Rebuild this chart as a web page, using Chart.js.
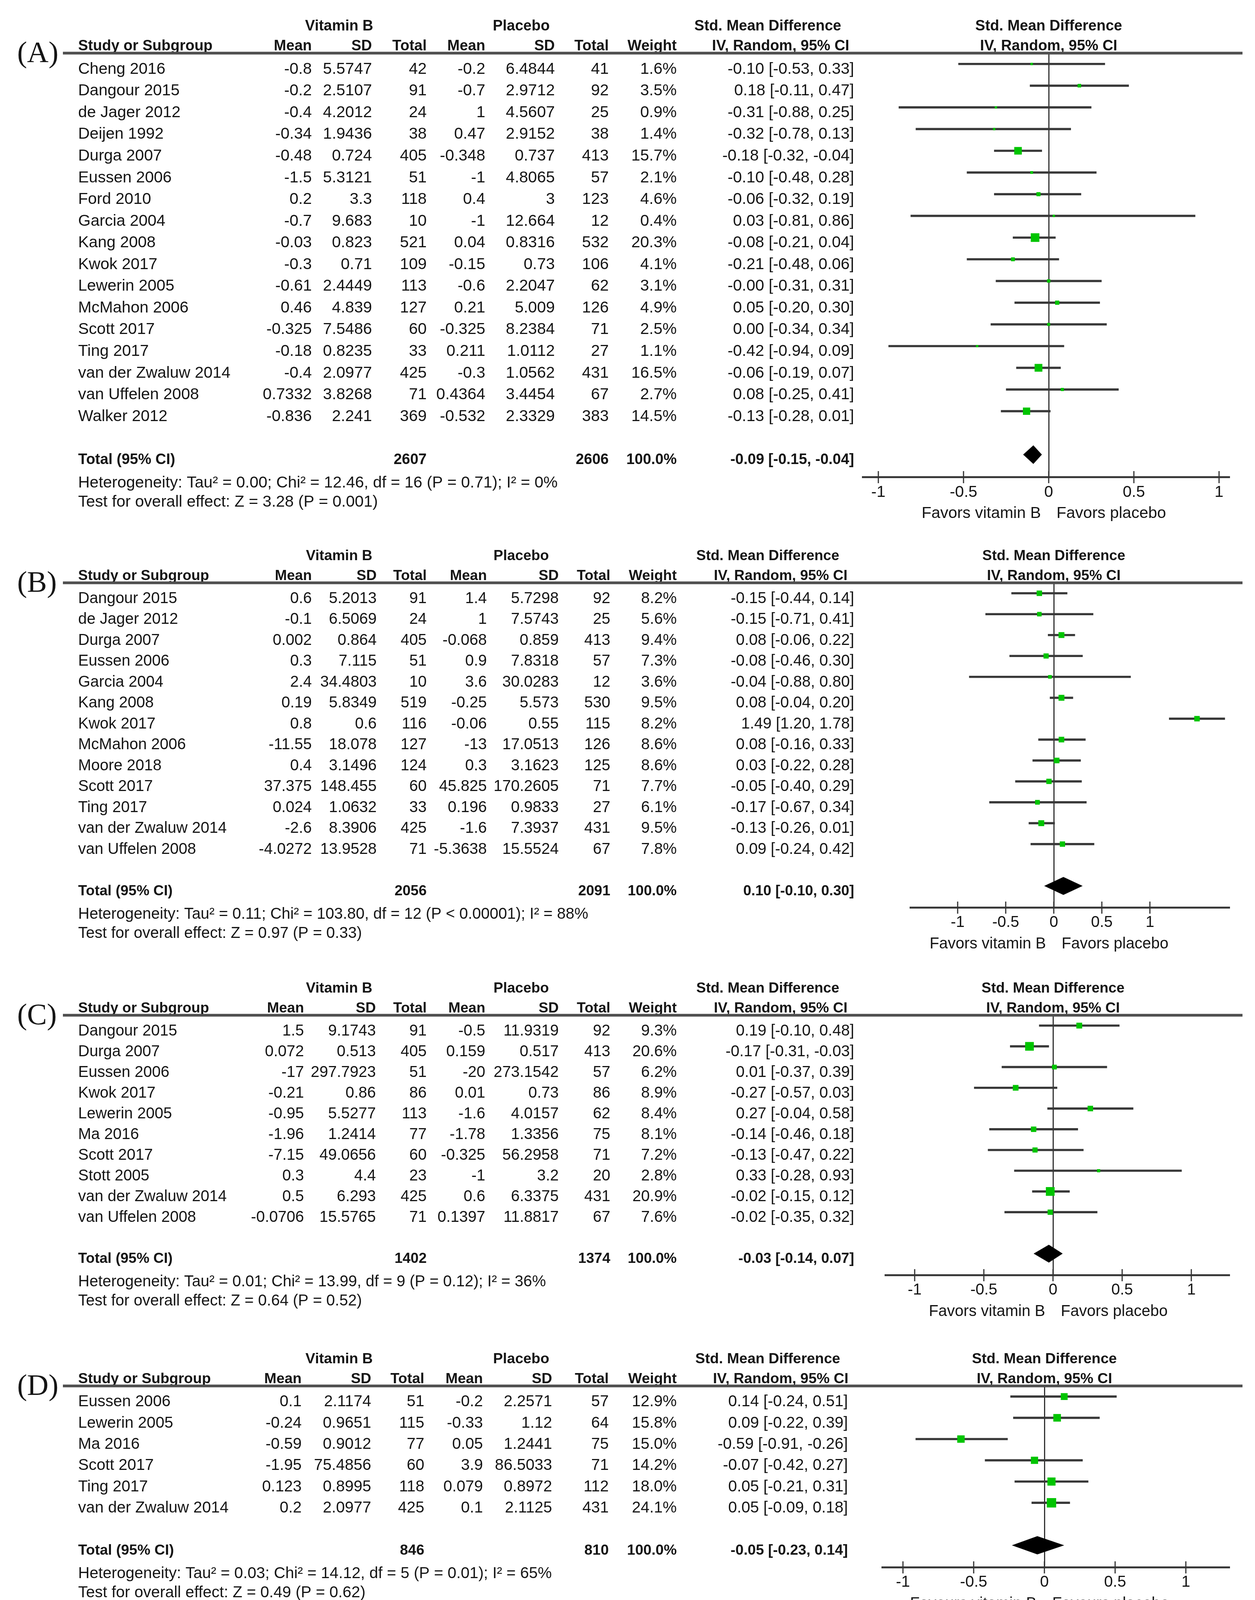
<!DOCTYPE html>
<html>
<head>
<meta charset="utf-8">
<title>Vitamin B vs placebo - forest plots</title>
<script src="https://cdn.jsdelivr.net/npm/chart.js@4.4.1/dist/chart.umd.min.js"></script>
<style>
  html, body { margin: 0; padding: 0; background: #fff; }
  #page { position: relative; width: 3212px; height: 5122px; background: #fff; }
  #page canvas { position: absolute; left: 0; }
</style>
</head>
<body>
<div id="page"></div>
<script>
'use strict';

// ---------- data ----------
var tickValues = [-1, -0.5, 0, 0.5, 1];
var favorsText = ['Favors vitamin B', 'Favors placebo'];
var favoursText = ['Favours vitamin B', 'Favours placebo'];

// (A)
var studiesA = ['Cheng 2016', 'Dangour 2015', 'de Jager 2012', 'Deijen 1992', 'Durga 2007', 'Eussen 2006',
  'Ford 2010', 'Garcia 2004', 'Kang 2008', 'Kwok 2017', 'Lewerin 2005', 'McMahon 2006', 'Scott 2017',
  'Ting 2017', 'van der Zwaluw 2014', 'van Uffelen 2008', 'Walker 2012'];
var vitMeanA = [-0.8, -0.2, -0.4, -0.34, -0.48, -1.5, 0.2, -0.7, -0.03, -0.3, -0.61, 0.46, -0.325, -0.18, -0.4, 0.7332, -0.836];
var vitSdA = [5.5747, 2.5107, 4.2012, 1.9436, 0.724, 5.3121, 3.3, 9.683, 0.823, 0.71, 2.4449, 4.839, 7.5486, 0.8235, 2.0977, 3.8268, 2.241];
var vitNA = [42, 91, 24, 38, 405, 51, 118, 10, 521, 109, 113, 127, 60, 33, 425, 71, 369];
var plaMeanA = [-0.2, -0.7, 1, 0.47, -0.348, -1, 0.4, -1, 0.04, -0.15, -0.6, 0.21, -0.325, 0.211, -0.3, 0.4364, -0.532];
var plaSdA = [6.4844, 2.9712, 4.5607, 2.9152, 0.737, 4.8065, 3, 12.664, 0.8316, 0.73, 2.2047, 5.009, 8.2384, 1.0112, 1.0562, 3.4454, 2.3329];
var plaNA = [41, 92, 25, 38, 413, 57, 123, 12, 532, 106, 62, 126, 71, 27, 431, 67, 383];
var weightA = [1.6, 3.5, 0.9, 1.4, 15.7, 2.1, 4.6, 0.4, 20.3, 4.1, 3.1, 4.9, 2.5, 1.1, 16.5, 2.7, 14.5];
var smdA = [-0.10, 0.18, -0.31, -0.32, -0.18, -0.10, -0.06, 0.03, -0.08, -0.21, -0, 0.05, 0.00, -0.42, -0.06, 0.08, -0.13];
var loA = [-0.53, -0.11, -0.88, -0.78, -0.32, -0.48, -0.32, -0.81, -0.21, -0.48, -0.31, -0.20, -0.34, -0.94, -0.19, -0.25, -0.28];
var hiA = [0.33, 0.47, 0.25, 0.13, -0.04, 0.28, 0.19, 0.86, 0.04, 0.06, 0.31, 0.30, 0.34, 0.09, 0.07, 0.41, 0.01];
var totalA = [2607, 2606];
var pooledA = [-0.09, -0.15, -0.04];
var hetA = 'Heterogeneity: Tau\u00b2 = 0.00; Chi\u00b2 = 12.46, df = 16 (P = 0.71); I\u00b2 = 0%';
var testA = 'Test for overall effect: Z = 3.28 (P = 0.001)';

// (B)
var studiesB = ['Dangour 2015', 'de Jager 2012', 'Durga 2007', 'Eussen 2006', 'Garcia 2004', 'Kang 2008',
  'Kwok 2017', 'McMahon 2006', 'Moore 2018', 'Scott 2017', 'Ting 2017', 'van der Zwaluw 2014', 'van Uffelen 2008'];
var vitMeanB = [0.6, -0.1, 0.002, 0.3, 2.4, 0.19, 0.8, -11.55, 0.4, 37.375, 0.024, -2.6, -4.0272];
var vitSdB = [5.2013, 6.5069, 0.864, 7.115, 34.4803, 5.8349, 0.6, 18.078, 3.1496, 148.455, 1.0632, 8.3906, 13.9528];
var vitNB = [91, 24, 405, 51, 10, 519, 116, 127, 124, 60, 33, 425, 71];
var plaMeanB = [1.4, 1, -0.068, 0.9, 3.6, -0.25, -0.06, -13, 0.3, 45.825, 0.196, -1.6, -5.3638];
var plaSdB = [5.7298, 7.5743, 0.859, 7.8318, 30.0283, 5.573, 0.55, 17.0513, 3.1623, 170.2605, 0.9833, 7.3937, 15.5524];
var plaNB = [92, 25, 413, 57, 12, 530, 115, 126, 125, 71, 27, 431, 67];
var weightB = [8.2, 5.6, 9.4, 7.3, 3.6, 9.5, 8.2, 8.6, 8.6, 7.7, 6.1, 9.5, 7.8];
var smdB = [-0.15, -0.15, 0.08, -0.08, -0.04, 0.08, 1.49, 0.08, 0.03, -0.05, -0.17, -0.13, 0.09];
var loB = [-0.44, -0.71, -0.06, -0.46, -0.88, -0.04, 1.20, -0.16, -0.22, -0.40, -0.67, -0.26, -0.24];
var hiB = [0.14, 0.41, 0.22, 0.30, 0.80, 0.20, 1.78, 0.33, 0.28, 0.29, 0.34, 0.01, 0.42];
var totalB = [2056, 2091];
var pooledB = [0.10, -0.10, 0.30];
var hetB = 'Heterogeneity: Tau\u00b2 = 0.11; Chi\u00b2 = 103.80, df = 12 (P < 0.00001); I\u00b2 = 88%';
var testB = 'Test for overall effect: Z = 0.97 (P = 0.33)';

// (C)
var studiesC = ['Dangour 2015', 'Durga 2007', 'Eussen 2006', 'Kwok 2017', 'Lewerin 2005', 'Ma 2016',
  'Scott 2017', 'Stott 2005', 'van der Zwaluw 2014', 'van Uffelen 2008'];
var vitMeanC = [1.5, 0.072, -17, -0.21, -0.95, -1.96, -7.15, 0.3, 0.5, -0.0706];
var vitSdC = [9.1743, 0.513, 297.7923, 0.86, 5.5277, 1.2414, 49.0656, 4.4, 6.293, 15.5765];
var vitNC = [91, 405, 51, 86, 113, 77, 60, 23, 425, 71];
var plaMeanC = [-0.5, 0.159, -20, 0.01, -1.6, -1.78, -0.325, -1, 0.6, 0.1397];
var plaSdC = [11.9319, 0.517, 273.1542, 0.73, 4.0157, 1.3356, 56.2958, 3.2, 6.3375, 11.8817];
var plaNC = [92, 413, 57, 86, 62, 75, 71, 20, 431, 67];
var weightC = [9.3, 20.6, 6.2, 8.9, 8.4, 8.1, 7.2, 2.8, 20.9, 7.6];
var smdC = [0.19, -0.17, 0.01, -0.27, 0.27, -0.14, -0.13, 0.33, -0.02, -0.02];
var loC = [-0.10, -0.31, -0.37, -0.57, -0.04, -0.46, -0.47, -0.28, -0.15, -0.35];
var hiC = [0.48, -0.03, 0.39, 0.03, 0.58, 0.18, 0.22, 0.93, 0.12, 0.32];
var totalC = [1402, 1374];
var pooledC = [-0.03, -0.14, 0.07];
var hetC = 'Heterogeneity: Tau\u00b2 = 0.01; Chi\u00b2 = 13.99, df = 9 (P = 0.12); I\u00b2 = 36%';
var testC = 'Test for overall effect: Z = 0.64 (P = 0.52)';

// (D)
var studiesD = ['Eussen 2006', 'Lewerin 2005', 'Ma 2016', 'Scott 2017', 'Ting 2017', 'van der Zwaluw 2014'];
var vitMeanD = [0.1, -0.24, -0.59, -1.95, 0.123, 0.2];
var vitSdD = [2.1174, 0.9651, 0.9012, 75.4856, 0.8995, 2.0977];
var vitND = [51, 115, 77, 60, 118, 425];
var plaMeanD = [-0.2, -0.33, 0.05, 3.9, 0.079, 0.1];
var plaSdD = [2.2571, 1.12, 1.2441, 86.5033, 0.8972, 2.1125];
var plaND = [57, 64, 75, 71, 112, 431];
var weightD = [12.9, 15.8, 15.0, 14.2, 18.0, 24.1];
var smdD = [0.14, 0.09, -0.59, -0.07, 0.05, 0.05];
var loD = [-0.24, -0.22, -0.91, -0.42, -0.21, -0.09];
var hiD = [0.51, 0.39, -0.26, 0.27, 0.31, 0.18];
var totalD = [846, 810];
var pooledD = [-0.05, -0.23, 0.14];
var hetD = 'Heterogeneity: Tau\u00b2 = 0.03; Chi\u00b2 = 14.12, df = 5 (P = 0.01); I\u00b2 = 65%';
var testD = 'Test for overall effect: Z = 0.49 (P = 0.62)';

// (E)
var studiesE = ['Cheng 2016', 'de Jager 2012', 'Eussen 2006', 'Ford 2010', 'Lewerin 2005', 'Ma 2016',
  'Moore 2018', 'Scott 2017', 'Ting 2017'];
var vitMeanE = [-1.3, 0.2, -1, -0.1, -0.99, -2.03, -4.2, 1.625, -0.066];
var vitSdE = [4.7659, 1.4765, 12.2776, 0.5, 3.9505, 0.9763, 26.7716, 20.1295, 0.832];
var vitNE = [42, 24, 51, 118, 114, 77, 124, 60, 33];
var plaMeanE = [0.1, -0.1, -1.5, 0, -0.8, -2.21, 3, -0.325, 0.245];
var plaSdE = [4.3042, 1.5556, 10.7412, 0.6, 3.9051, 1.3298, 26.1008, 23.3422, 0.7912];
var plaNE = [41, 25, 57, 123, 61, 75, 125, 71, 27];
var weightE = [7.4, 4.6, 9.4, 18.1, 13.1, 12.6, 18.4, 11.1, 5.4];
var smdE = [-0.31, 0.19, 0.04, -0.18, -0.05, 0.15, -0.27, 0.09, -0.38];
var loE = [-0.74, -0.37, -0.33, -0.43, -0.36, -0.16, -0.52, -0.26, -0.89];
var hiE = [0.13, 0.76, 0.42, 0.07, 0.26, 0.47, -0.02, 0.43, 0.14];
var totalE = [643, 605];
var pooledE = [-0.09, -0.21, 0.03];
var hetE = 'Heterogeneity: Tau\u00b2 = 0.01; Chi\u00b2 = 9.48, df = 8 (P = 0.30); I\u00b2 = 16%';
var testE = 'Test for overall effect: Z = 1.41 (P = 0.16)';

// ---------- layout (page pixels) ----------
var SANS = '"Liberation Sans", Arial, Helvetica, sans-serif';
var SERIF = '"Liberation Serif", "Times New Roman", serif';
var INK = '#151515';
var GREEN = '#00c400';
var AXIS_H = 120;
var AXIS_RIGHT = 3146;

var COLS_A = { name: 200, vitMean: 798, vitSd: 952, vitN: 1092, plaMean: 1242, plaSd: 1420, plaN: 1558,
  weight: 1732, ci: 2186, vitHead: 868, plaHead: 1334, smdHead: 1965, ivHead: 1998 };
var COLS_B = Object.assign({}, COLS_A, { vitSd: 964, plaMean: 1246, plaSd: 1430, plaN: 1562 });
var COLS_C = Object.assign({}, COLS_A, { vitMean: 778, vitSd: 962, plaMean: 1242, plaSd: 1430, plaN: 1562 });
var COLS_D = Object.assign({}, COLS_A, { vitMean: 772, vitSd: 950, vitN: 1086, plaMean: 1236, plaSd: 1413, ci: 2170 });
var COLS_E = Object.assign({}, COLS_A, { vitMean: 782, vitSd: 955 });

var panels = [
  { label: 'A', studies: studiesA, vitMean: vitMeanA, vitSd: vitSdA, vitN: vitNA, plaMean: plaMeanA, plaSd: plaSdA,
    plaN: plaNA, weight: weightA, smd: smdA, lo: loA, hi: hiA, total: totalA, pooled: pooledA, het: hetA, test: testA,
    favours: favorsText,
    layout: { top: 0, height: 1346, line: 136, axis: 1221, zero: 2684, unit: 436, left: 2208, font: 41, cols: COLS_A } },
  { label: 'B', studies: studiesB, vitMean: vitMeanB, vitSd: vitSdB, vitN: vitNB, plaMean: plaMeanB, plaSd: plaSdB,
    plaN: plaNB, weight: weightB, smd: smdB, lo: loB, hi: hiB, total: totalB, pooled: pooledB, het: hetB, test: testB,
    favours: favorsText,
    layout: { top: 1346, height: 1114, line: 1492, axis: 2323, zero: 2697, unit: 246, left: 2330, font: 40, cols: COLS_B } },
  { label: 'C', studies: studiesC, vitMean: vitMeanC, vitSd: vitSdC, vitN: vitNC, plaMean: plaMeanC, plaSd: plaSdC,
    plaN: plaNC, weight: weightC, smd: smdC, lo: loC, hi: hiC, total: totalC, pooled: pooledC, het: hetC, test: testC,
    favours: favorsText,
    layout: { top: 2460, height: 940, line: 2599, axis: 3264, zero: 2695, unit: 354, left: 2266, font: 40, cols: COLS_C } },
  { label: 'D', studies: studiesD, vitMean: vitMeanD, vitSd: vitSdD, vitN: vitND, plaMean: plaMeanD, plaSd: plaSdD,
    plaN: plaND, weight: weightD, smd: smdD, lo: loD, hi: hiD, total: totalD, pooled: pooledD, het: hetD, test: testD,
    favours: favoursText,
    layout: { top: 3400, height: 740, line: 3548, axis: 4012, zero: 2673, unit: 362, left: 2258, font: 40.5, cols: COLS_D } },
  { label: 'E', studies: studiesE, vitMean: vitMeanE, vitSd: vitSdE, vitN: vitNE, plaMean: plaMeanE, plaSd: plaSdE,
    plaN: plaNE, weight: weightE, smd: smdE, lo: loE, hi: hiE, total: totalE, pooled: pooledE, het: hetE, test: testE,
    favours: favorsText,
    layout: { top: 4140, height: 982, line: 4297, axis: 4943, zero: 2678, unit: 429, left: 2216, font: 41, cols: COLS_E } }
];

// ---------- helpers ----------
function fmt2(v) {
  var neg = v < 0 || Object.is(v, -0);
  return (neg ? '-' : '') + Math.abs(v).toFixed(2);
}
function ciText(est, lo, hi) {
  return fmt2(est) + ' [' + fmt2(lo) + ', ' + fmt2(hi) + ']';
}
function boxSide(w) {
  return Math.max(6, 4.9 * Math.sqrt(w));
}
function put(ctx, s, x, y, align, font) {
  ctx.font = font;
  ctx.textAlign = align;
  ctx.fillText(s, x, y);
}

function tablePlugin(p) {
  return {
    id: 'forestTable' + p.label,
    afterDatasetsDraw: function (chart) {
      // pooled estimate diamond
      var ctx = chart.ctx, xs = chart.scales.x, ys = chart.scales.y;
      var row = p.studies.length + 1;
      var cy = ys.getPixelForValue(row);
      var hh = ys.getPixelForValue(row + 0.43) - cy;
      ctx.save();
      ctx.fillStyle = '#000';
      ctx.beginPath();
      ctx.moveTo(xs.getPixelForValue(p.pooled[1]), cy);
      ctx.lineTo(xs.getPixelForValue(p.pooled[0]), cy - hh);
      ctx.lineTo(xs.getPixelForValue(p.pooled[2]), cy);
      ctx.lineTo(xs.getPixelForValue(p.pooled[0]), cy + hh);
      ctx.closePath();
      ctx.fill();
      ctx.restore();
    },
    afterDraw: function (chart) {
      var ctx = chart.ctx, xs = chart.scales.x, ys = chart.scales.y;
      var L = p.layout, C = L.cols;
      var n = p.studies.length;
      var line = chart.chartArea.top, axis = chart.chartArea.bottom;
      var zeroPx = xs.getPixelForValue(0);
      var body = L.font + 'px ' + SANS, bold = 'bold ' + (L.font - 3) + 'px ' + SANS;
      ctx.save();
      ctx.fillStyle = INK;
      ctx.textBaseline = 'alphabetic';

      // panel letter
      put(ctx, '(' + p.label + ')', 44, line + 23, 'left', '76px ' + SERIF);

      // column headers
      var h1 = line - 58, h2 = line - 7;
      put(ctx, 'Vitamin B', C.vitHead, h1, 'center', bold);
      put(ctx, 'Placebo', C.plaHead, h1, 'center', bold);
      put(ctx, 'Std. Mean Difference', C.smdHead, h1, 'center', bold);
      put(ctx, 'Std. Mean Difference', zeroPx, h1, 'center', bold);
      put(ctx, 'Study or Subgroup', C.name, h2, 'left', bold);
      put(ctx, 'Mean', C.vitMean, h2, 'right', bold);
      put(ctx, 'SD', C.vitSd, h2, 'right', bold);
      put(ctx, 'Total', C.vitN, h2, 'right', bold);
      put(ctx, 'Mean', C.plaMean, h2, 'right', bold);
      put(ctx, 'SD', C.plaSd, h2, 'right', bold);
      put(ctx, 'Total', C.plaN, h2, 'right', bold);
      put(ctx, 'Weight', C.weight, h2, 'right', bold);
      put(ctx, 'IV, Random, 95% CI', C.ivHead, h2, 'center', bold);
      put(ctx, 'IV, Random, 95% CI', zeroPx, h2, 'center', bold);

      // study rows
      for (var i = 0; i < n; i++) {
        var ty = ys.getPixelForValue(i) + 25;
        put(ctx, p.studies[i], C.name, ty, 'left', body);
        put(ctx, String(p.vitMean[i]), C.vitMean, ty, 'right', body);
        put(ctx, String(p.vitSd[i]), C.vitSd, ty, 'right', body);
        put(ctx, String(p.vitN[i]), C.vitN, ty, 'right', body);
        put(ctx, String(p.plaMean[i]), C.plaMean, ty, 'right', body);
        put(ctx, String(p.plaSd[i]), C.plaSd, ty, 'right', body);
        put(ctx, String(p.plaN[i]), C.plaN, ty, 'right', body);
        put(ctx, p.weight[i].toFixed(1) + '%', C.weight, ty, 'right', body);
        put(ctx, ciText(p.smd[i], p.lo[i], p.hi[i]), C.ci, ty, 'right', body);
      }

      // total row, heterogeneity and overall effect
      var totY = ys.getPixelForValue(n + 1);
      var tb = totY + 24;
      put(ctx, 'Total (95% CI)', C.name, tb, 'left', bold);
      put(ctx, String(p.total[0]), C.vitN, tb, 'right', bold);
      put(ctx, String(p.total[1]), C.plaN, tb, 'right', bold);
      put(ctx, '100.0%', C.weight, tb, 'right', bold);
      put(ctx, ciText(p.pooled[0], p.pooled[1], p.pooled[2]), C.ci, tb, 'right', bold);
      put(ctx, p.het, C.name, totY + 84, 'left', body);
      put(ctx, p.test, C.name, totY + 133, 'left', body);

      // favours labels under the axis
      put(ctx, p.favours[0], zeroPx - 20, axis + 105, 'right', body);
      put(ctx, p.favours[1], zeroPx + 20, axis + 105, 'left', body);

      // header rule
      ctx.strokeStyle = '#4f4f4f';
      ctx.lineWidth = 7;
      ctx.beginPath();
      ctx.moveTo(161, line);
      ctx.lineTo(3180, line);
      ctx.stroke();

      // tick marks crossing the axis
      ctx.strokeStyle = '#333';
      ctx.lineWidth = 3;
      xs.ticks.forEach(function (t) {
        var px = xs.getPixelForValue(t.value);
        ctx.beginPath();
        ctx.moveTo(px, axis - 15);
        ctx.lineTo(px, axis + 16);
        ctx.stroke();
      });
      ctx.restore();
    }
  };
}

function buildPanel(p) {
  var L = p.layout;
  var n = p.studies.length;
  var canvas = document.createElement('canvas');
  canvas.width = 3212;
  canvas.height = L.height;
  canvas.style.top = L.top + 'px';
  canvas.style.width = '3212px';
  canvas.style.height = L.height + 'px';
  document.getElementById('page').appendChild(canvas);

  var xMin = (L.left - L.zero) / L.unit;
  var xMax = (AXIS_RIGHT - L.zero) / L.unit;

  new Chart(canvas, {
    type: 'scatter',
    data: {
      datasets: [
        {
          type: 'scatter',
          order: 1,
          data: p.smd.map(function (v, i) { return { x: v, y: i }; }),
          pointStyle: 'rect',
          pointRadius: function (c) { return boxSide(p.weight[c.dataIndex]) / Math.SQRT2; },
          backgroundColor: GREEN,
          borderWidth: 0
        },
        {
          type: 'bar',
          order: 2,
          indexAxis: 'y',
          data: p.lo.map(function (v, i) { return { x: [v, p.hi[i]], y: i }; }),
          backgroundColor: '#383838',
          borderWidth: 0,
          barThickness: 5
        }
      ]
    },
    options: {
      responsive: false,
      animation: false,
      devicePixelRatio: 1,
      events: [],
      layout: {
        padding: {
          left: L.left,
          right: 3212 - AXIS_RIGHT,
          top: L.line - L.top,
          bottom: L.height - (L.axis - L.top) - AXIS_H
        }
      },
      plugins: { legend: { display: false }, tooltip: { enabled: false } },
      scales: {
        x: {
          type: 'linear',
          min: xMin,
          max: xMax,
          offset: false,
          afterBuildTicks: function (s) {
            s.ticks = tickValues.map(function (v) { return { value: v }; });
          },
          afterFit: function (s) { s.height = AXIS_H; },
          border: { display: true, color: '#3a3a3a', width: 5 },
          grid: {
            drawTicks: false,
            offset: false,
            lineWidth: 3,
            color: function (c) { return c.tick && c.tick.value === 0 ? '#333' : 'rgba(0,0,0,0)'; }
          },
          ticks: {
            autoSkip: false,
            maxRotation: 0,
            padding: 15,
            color: INK,
            font: { family: SANS, size: L.font },
            callback: function (v) { return String(v); }
          }
        },
        y: {
          type: 'linear',
          display: false,
          reverse: true,
          offset: false,
          grid: { offset: false },
          min: -0.5,
          max: n + 2.03
        }
      }
    },
    plugins: [tablePlugin(p)]
  });
}

panels.forEach(buildPanel);
</script>
</body>
</html>
